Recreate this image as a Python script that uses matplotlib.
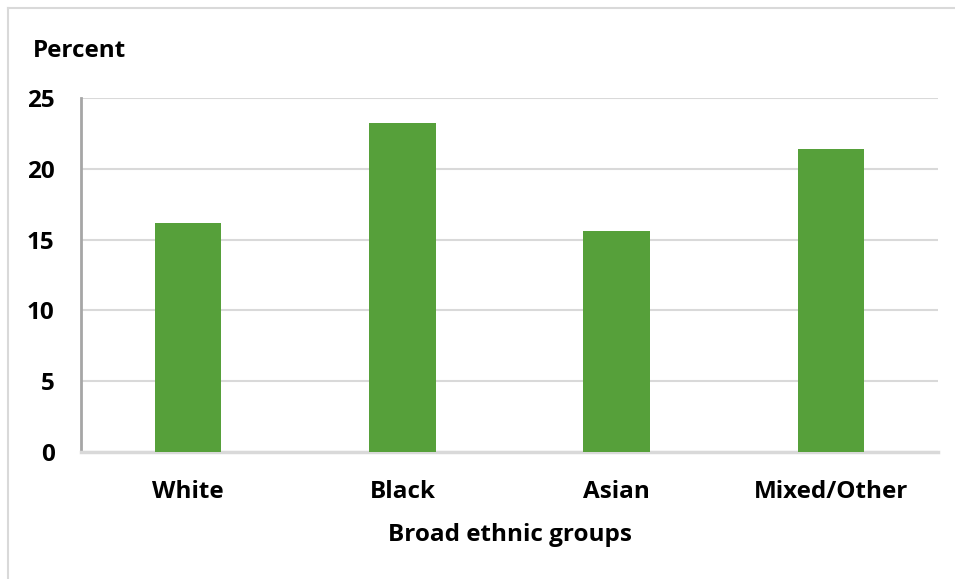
import matplotlib.pyplot as plt
from matplotlib.lines import Line2D

# Data
groups = ["White", "Black", "Asian", "Mixed/Other"]
percent = [16.2, 23.2, 15.6, 21.4]
y_ticks = [0, 5, 10, 15, 20, 25]

plt.rcParams["font.family"] = ["Open Sans", "DejaVu Sans"]
plt.rcParams["font.weight"] = "bold"

W, H = 955, 579
fig = plt.figure(figsize=(W / 100, H / 100), dpi=100)

# plot area in pixel coords: x 81..938, y 98..452
left, right, top, bottom = 81, 938, 98, 452
ax = fig.add_axes([left / W, 1 - bottom / H, (right - left) / W, (bottom - top) / H])

x = range(len(groups))
ax.bar(x, percent, width=0.31, color="#56A03A", zorder=3)

fs = 17.5
ax.set_xlim(-0.5, len(groups) - 0.5)
ax.set_ylim(0, 25)
ax.set_yticks(y_ticks)
ax.set_yticklabels([str(t) for t in y_ticks], fontsize=fs, fontweight="bold")
ax.set_xticks(list(x))
ax.set_xticklabels(groups, fontsize=fs, fontweight="bold")
ax.tick_params(axis="y", length=0, pad=19)
ax.tick_params(axis="x", length=0, pad=20)

ax.grid(axis="y", color="#d9d9d9", linewidth=1.5, zorder=0)
ax.set_axisbelow(True)
for side in ["top", "right"]:
    ax.spines[side].set_visible(False)
ax.spines["left"].set_color("#a6a6a6")
ax.spines["left"].set_linewidth(2)
ax.spines["bottom"].set_color("#d9d9d9")
ax.spines["bottom"].set_linewidth(2.5)

ax.set_xlabel("Broad ethnic groups", fontsize=fs, fontweight="bold", labelpad=14)
fig.text(33 / W, 1 - 51 / H, "Percent", fontsize=fs, fontweight="bold", va="center", ha="left")

# outer chart frame (only left and top edges visible)
fig.add_artist(Line2D([7.5 / W, 7.5 / W], [0, 1 - 7.5 / H], color="#d9d9d9", linewidth=1.5))
fig.add_artist(Line2D([7.5 / W, 1], [1 - 7.5 / H, 1 - 7.5 / H], color="#d9d9d9", linewidth=1.5))

fig.savefig("out.png", dpi=100)
